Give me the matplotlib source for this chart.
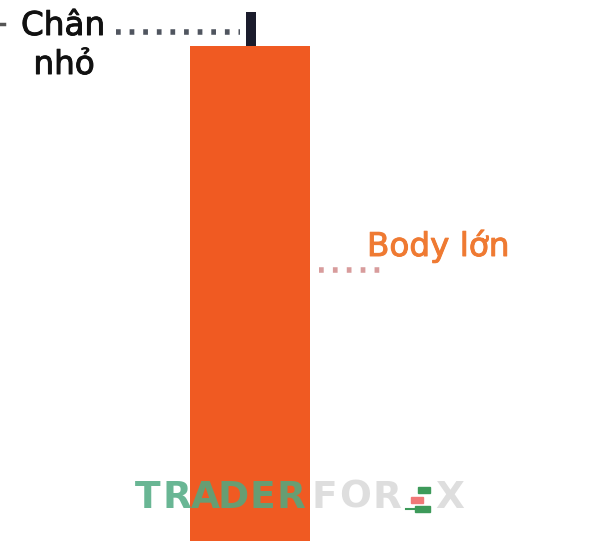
import matplotlib
matplotlib.use("Agg")
import matplotlib.pyplot as plt
import matplotlib.patheffects as pe
from matplotlib.patches import Rectangle

# candle values (price units, image scale)
candle_x = [250]
candle_open = [-20]
candle_close = [495]
candle_high = [529]

labels = ["Chân", "nhỏ", "Body lớn"]
wm_left = "TRADER"
wm_right = ["F", "O", "R", "", "X"]

fig = plt.figure(figsize=(6.0, 5.41), dpi=100)
ax = fig.add_axes([0, 0, 1, 1])
ax.set_xlim(0, 600)
ax.set_ylim(541, 0)
ax.axis("off")

# candle
for x, o, c, h in zip(candle_x, candle_open, candle_close, candle_high):
    ax.bar(x, c - o, bottom=541 - c, width=120, color="#f05a22", zorder=2)
    ax.bar(x + 1, h - c, bottom=541 - h, width=10, color="#1b1c2c", zorder=2)

thick = [pe.withStroke(linewidth=0.7, foreground="#111111")]
# labels
ax.text(21, 35, labels[0], family="DejaVu Sans", fontsize=23.5,
        color="#111111", va="baseline", ha="left", path_effects=thick)
ax.text(64, 74, labels[1], family="DejaVu Sans", fontsize=23.5,
        color="#111111", va="baseline", ha="center", path_effects=thick)
ax.plot([116, 240], [32, 32], ls=(0, (0.85, 1.6)), lw=4, color="#50555f",
        dash_capstyle="butt")
ax.plot([0, 4], [24, 24], lw=2.5, color="#555555")

ax.text(367, 256, labels[2], family="DejaVu Sans", fontsize=23.5,
        color="#ef7a32", va="baseline", ha="left",
        path_effects=[pe.withStroke(linewidth=0.7, foreground="#ef7a32")])
ax.plot([319, 382], [270, 270], ls=(0, (0.85, 1.65)), lw=4, color="#d89c9c",
        dash_capstyle="butt")

# watermark
for i, ch in enumerate(wm_left):
    ax.text(148 + i * 28.5, 498, ch, family="DejaVu Sans", fontsize=27,
            fontweight="heavy", color="#4fa982", alpha=0.85,
            va="center", ha="center", zorder=3)
for i, ch in enumerate(wm_right):
    ax.text(324 + i * 31.5, 498, ch, family="DejaVu Sans", fontsize=27,
            fontweight="heavy", color="#dedede", va="center", ha="center", zorder=3)
ax.add_patch(Rectangle((418, 487), 12, 6, color="#3d9a5a", zorder=3))
ax.add_patch(Rectangle((411, 497), 12, 6, color="#f07878", zorder=3))
ax.add_patch(Rectangle((415, 506), 15, 6, color="#3d9a5a", zorder=3))
ax.plot([406, 416], [509, 509], lw=1.5, color="#3d9a5a", zorder=3)

fig.savefig("out.png", dpi=100)
